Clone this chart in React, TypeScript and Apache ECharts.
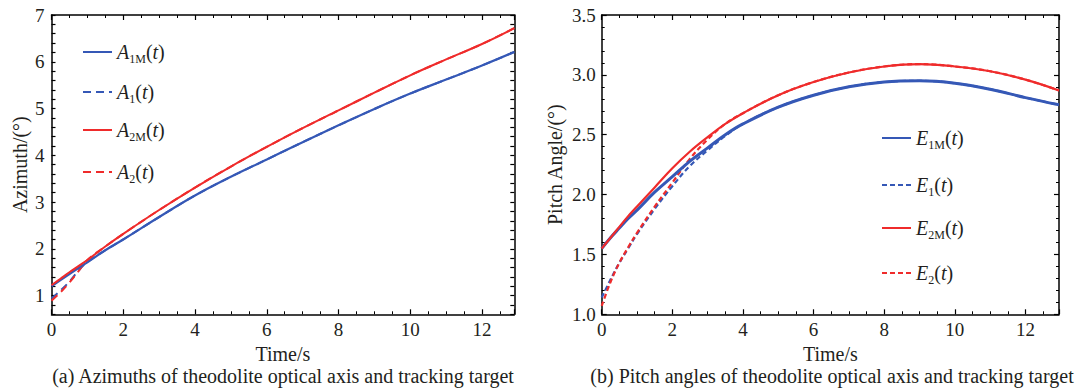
import React, { useEffect, useRef } from "react";
import * as echarts from "echarts";

// ---- Data ----
const timeA = [0, 0.25, 0.5, 0.75, 1, 1.5, 2, 3, 4, 5, 6, 7, 8, 9, 10, 11, 12, 12.9];
const a1m = [1.2, 1.33, 1.46, 1.59, 1.71, 1.97, 2.2, 2.68, 3.14, 3.54, 3.91, 4.28, 4.64, 4.99, 5.32, 5.62, 5.92, 6.21];
const a1 = [0.94, 1.11, 1.3, 1.53, 1.72, 1.97, 2.2, 2.68, 3.14, 3.54, 3.91, 4.28, 4.64, 4.99, 5.32, 5.62, 5.92, 6.21];
const a2m = [1.22, 1.36, 1.5, 1.63, 1.76, 2.05, 2.32, 2.83, 3.31, 3.76, 4.18, 4.58, 4.96, 5.34, 5.71, 6.05, 6.38, 6.72];
const a2 = [0.89, 1.07, 1.28, 1.52, 1.76, 2.05, 2.32, 2.83, 3.31, 3.76, 4.18, 4.58, 4.96, 5.34, 5.71, 6.05, 6.38, 6.72];

const timeE = [0, 0.25, 0.5, 0.75, 1, 1.5, 2, 2.5, 3, 3.5, 4, 5, 6, 7, 8, 9, 10, 11, 12, 12.95];
const e1m = [1.55, 1.64, 1.72, 1.8, 1.87, 2.02, 2.15, 2.28, 2.39, 2.5, 2.59, 2.73, 2.83, 2.9, 2.94, 2.95, 2.93, 2.88, 2.81, 2.75];
const e1 = [1.14, 1.29, 1.43, 1.55, 1.67, 1.88, 2.07, 2.24, 2.37, 2.49, 2.59, 2.73, 2.83, 2.9, 2.94, 2.95, 2.93, 2.88, 2.81, 2.75];
const e2m = [1.55, 1.64, 1.73, 1.82, 1.9, 2.06, 2.22, 2.36, 2.48, 2.59, 2.68, 2.83, 2.94, 3.02, 3.07, 3.09, 3.07, 3.03, 2.96, 2.87];
const e2 = [1.07, 1.27, 1.43, 1.56, 1.68, 1.9, 2.1, 2.3, 2.46, 2.59, 2.68, 2.83, 2.94, 3.02, 3.07, 3.09, 3.07, 3.03, 2.96, 2.87];

const xTicksA = { min: 0, max: 12.9, interval: 2 };
const yTicksA = { min: 0.6, max: 7, interval: 0.2 };
const xTicksE = { min: 0, max: 12.95, interval: 2 };
const yTicksE = { min: 1, max: 3.5, interval: 0.5 };

const captionA = "(a) Azimuths of theodolite optical axis and tracking target";
const captionB = "(b) Pitch angles of theodolite optical axis and tracking target";

// legend labels: [letter, subscript]
const legendNames: Record<string, [string, string]> = {
  "A1M(t)": ["A", "1M"],
  "A1(t)": ["A", "1"],
  "A2M(t)": ["A", "2M"],
  "A2(t)": ["A", "2"],
  "E1M(t)": ["E", "1M"],
  "E1(t)": ["E", "1"],
  "E2M(t)": ["E", "2M"],
  "E2(t)": ["E", "2"],
};

const BLUE = "#3558b6";
const RED = "#ef2b2b";
const TXT = "#231f20";
const FONT = "'Liberation Serif', 'Times New Roman', serif";
const TICK_FS = 19;

const pair = (ts: number[], vs: number[]) => ts.map((t, i) => [t, vs[i]]);

function xAxisPair(grid: number, sc: { min: number; max: number; interval: number }) {
  const common = {
    type: "value",
    gridIndex: grid,
    min: sc.min,
    max: sc.max,
    interval: sc.interval,
    splitLine: { show: false },
    axisLine: { show: true, onZero: false, lineStyle: { color: "#000", width: 1.5 } },
    axisTick: { show: true, inside: true, length: 5, lineStyle: { color: "#000", width: 1.2 } },
    minorTick: { show: true, splitNumber: 4, length: 3, lineStyle: { color: "#000", width: 1 } },
  };
  return [
    {
      ...common,
      position: "bottom",
      name: "Time/s",
      nameLocation: "middle",
      nameGap: 24,
      nameTextStyle: { fontFamily: FONT, fontSize: 20, color: TXT },
      axisLabel: {
        show: true,
        margin: 6,
        showMaxLabel: false,
        fontFamily: FONT,
        fontSize: TICK_FS,
        color: TXT,
        formatter: (v: number) => (Math.abs(v / 2 - Math.round(v / 2)) < 1e-6 ? String(Math.round(v)) : ""),
      },
    },
    { ...common, position: "top", axisLabel: { show: false } },
  ];
}

function legendItem(name: string, left: number, top: number) {
  return {
    data: [name],
    left,
    top,
    orient: "vertical",
    padding: 0,
    itemGap: 0,
    itemWidth: 29,
    itemHeight: 12,
    selectedMode: false,
    itemStyle: { opacity: 0 },
    formatter: (n: string) => {
      const [l, s] = legendNames[n];
      return `{i|${l}}{s|${s}}{n|(}{i|t}{n|)}`;
    },
    textStyle: {
      color: TXT,
      rich: {
        i: { fontFamily: FONT, fontStyle: "italic", fontSize: 20, lineHeight: 26, color: TXT, verticalAlign: "middle" },
        n: { fontFamily: FONT, fontSize: 20, lineHeight: 26, color: TXT, verticalAlign: "middle" },
        s: { fontFamily: FONT, fontSize: 12, lineHeight: 26, color: TXT, verticalAlign: "bottom" },
      },
    },
  };
}

function lineSeries(name: string, axis: number, ts: number[], vs: number[], color: string, width: number, type: any) {
  return {
    name,
    type: "line",
    xAxisIndex: axis,
    yAxisIndex: axis,
    data: pair(ts, vs),
    showSymbol: false,
    symbol: "none",
    smooth: 0.4,
    color,
    lineStyle: { color, width, type },
  };
}

export default function App() {
  const ref = useRef<HTMLDivElement>(null);

  useEffect(() => {
    if (!ref.current) return;
    const chart = echarts.init(ref.current, undefined, { renderer: "svg" });

    const yCommon = {
      type: "value",
      splitLine: { show: false },
      axisLine: { show: true, onZero: false, lineStyle: { color: "#000", width: 1.5 } },
    };

    const option: any = {
      animation: false,
      backgroundColor: "#fff",
      grid: [
        { left: 51.5, top: 15, width: 462.8, height: 299.3, containLabel: false },
        { left: 601.7, top: 15, width: 457.3, height: 299.3, containLabel: false },
      ],
      xAxis: [...xAxisPair(0, xTicksA), ...xAxisPair(1, xTicksE)],
      yAxis: [
        {
          ...yCommon,
          gridIndex: 0,
          position: "left",
          ...yTicksA,
          name: "Azimuth/(°)",
          nameLocation: "middle",
          nameGap: 22,
          nameTextStyle: { fontFamily: FONT, fontSize: 20, color: TXT },
          axisTick: { show: true, inside: true, length: 4, lineStyle: { color: "#000", width: 1.2 } },
          axisLabel: {
            margin: 7,
            fontFamily: FONT,
            fontSize: TICK_FS,
            color: TXT,
            formatter: (v: number) => (Math.abs(v - Math.round(v)) < 1e-6 ? String(Math.round(v)) : ""),
          },
        },
        {
          ...yCommon,
          gridIndex: 0,
          position: "right",
          ...yTicksA,
          axisTick: { show: true, inside: true, length: 4, lineStyle: { color: "#000", width: 1.2 } },
          axisLabel: { show: false },
        },
        {
          ...yCommon,
          gridIndex: 1,
          position: "left",
          ...yTicksE,
          name: "Pitch Angle/(°)",
          nameLocation: "middle",
          nameGap: 37,
          nameTextStyle: { fontFamily: FONT, fontSize: 20, color: TXT },
          axisTick: { show: true, inside: true, length: 5, lineStyle: { color: "#000", width: 1.2 } },
          minorTick: { show: true, splitNumber: 5, length: 3, lineStyle: { color: "#000", width: 1 } },
          axisLabel: {
            margin: 6,
            fontFamily: FONT,
            fontSize: TICK_FS,
            color: TXT,
            formatter: (v: number) => v.toFixed(1),
          },
        },
        {
          ...yCommon,
          gridIndex: 1,
          position: "right",
          ...yTicksE,
          axisTick: { show: true, inside: true, length: 5, lineStyle: { color: "#000", width: 1.2 } },
          minorTick: { show: true, splitNumber: 5, length: 3, lineStyle: { color: "#000", width: 1 } },
          axisLabel: { show: false },
        },
      ],
      legend: [
        legendItem("A1M(t)", 82, 42),
        legendItem("A1(t)", 82, 82),
        legendItem("A2M(t)", 82, 120),
        legendItem("A2(t)", 82, 162),
        legendItem("E1M(t)", 881, 128),
        legendItem("E1(t)", 881, 175),
        legendItem("E2M(t)", 881, 218),
        legendItem("E2(t)", 881, 263),
      ],
      series: [
        lineSeries("A1(t)", 0, timeA, a1, BLUE, 2, [8, 5]),
        lineSeries("A2(t)", 0, timeA, a2, RED, 2, [8, 5]),
        lineSeries("A1M(t)", 0, timeA, a1m, BLUE, 2.2, "solid"),
        lineSeries("A2M(t)", 0, timeA, a2m, RED, 2, "solid"),
        lineSeries("E1(t)", 2, timeE, e1, BLUE, 2.2, [5, 3]),
        lineSeries("E2(t)", 2, timeE, e2, RED, 2.2, [5, 3]),
        lineSeries("E1M(t)", 2, timeE, e1m, BLUE, 3, "solid"),
        lineSeries("E2M(t)", 2, timeE, e2m, RED, 2.2, "solid"),
      ],
      graphic: [
        {
          type: "text", x: 283, y: 376,
          style: { text: captionA, fontFamily: FONT, fontSize: 20, fill: TXT, align: "center", verticalAlign: "middle" },
        },
        {
          type: "text", x: 832, y: 376,
          style: { text: captionB, fontFamily: FONT, fontSize: 20, fill: TXT, align: "center", verticalAlign: "middle" },
        },
      ],
    };

    chart.setOption(option);
    return () => chart.dispose();
  }, []);

  return (
    <div
      ref={ref}
      style={{ position: "fixed", left: 0, top: 0, width: 1078, height: 391, background: "#fff" }}
    />
  );
}
